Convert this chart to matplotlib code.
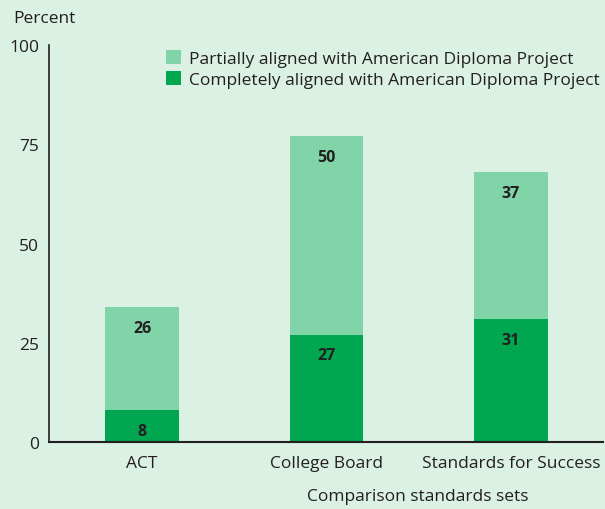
import matplotlib.pyplot as plt
import numpy as np

# Data
categories = ['ACT', 'College Board', 'Standards for Success']
completely = [8, 27, 31]
partially = [26, 50, 37]
yticks = [0, 25, 50, 75, 100]

bg = '#daf1e4'
dark = '#00a650'
light = '#80d4a8'
txt = '#231f20'

plt.rcParams['font.family'] = ['Open Sans', 'DejaVu Sans']

fig = plt.figure(figsize=(6.05, 5.1), dpi=100, facecolor=bg)
ax = fig.add_axes([0.081, 0.131, 0.916, 0.779], facecolor=bg)

x = np.arange(len(categories))
w = 0.40
b1 = ax.bar(x, completely, w, color=dark, label='Completely aligned with American Diploma Project')
b2 = ax.bar(x, partially, w, bottom=completely, color=light, label='Partially aligned with American Diploma Project')

# value labels near the top of each segment
for i in range(len(categories)):
    ax.annotate(str(completely[i]), (x[i], completely[i]), xytext=(0, -9), textcoords='offset points',
                ha='center', va='top', fontsize=11.5, fontweight='bold', color=txt)
    ax.annotate(str(partially[i]), (x[i], completely[i] + partially[i]), xytext=(0, -9),
                textcoords='offset points', ha='center', va='top', fontsize=11.5, fontweight='bold', color=txt)

ax.set_xlim(-0.505, 2.5)
ax.set_ylim(0, 100)
ax.set_yticks(yticks)
ax.set_xticks(x)
ax.set_xticklabels(categories)
ax.tick_params(axis='both', length=0, labelsize=12.5, colors=txt)
ax.tick_params(axis='y', pad=7)
ax.tick_params(axis='x', pad=9)
for s in ['top', 'right']:
    ax.spines[s].set_visible(False)
ax.spines['left'].set_color(txt)
ax.spines['bottom'].set_color(txt)
ax.spines['left'].set_linewidth(1.2)
ax.spines['bottom'].set_linewidth(1.5)

handles = [b2, b1]
ax.legend(handles, [h.get_label() for h in handles], loc='upper right', bbox_to_anchor=(1.015, 1.018),
          frameon=False, fontsize=12.5, handlelength=0.85, handleheight=0.85, handletextpad=0.45,
          labelspacing=0.25, labelcolor=txt, borderpad=0.2)

fig.text(0.022, 0.963, 'Percent', fontsize=12.5, color=txt, va='center', ha='left')
fig.text(0.69, 0.025, 'Comparison standards sets', fontsize=12.5, color=txt, va='center', ha='center')

plt.savefig('out.png', dpi=100, facecolor=bg)
